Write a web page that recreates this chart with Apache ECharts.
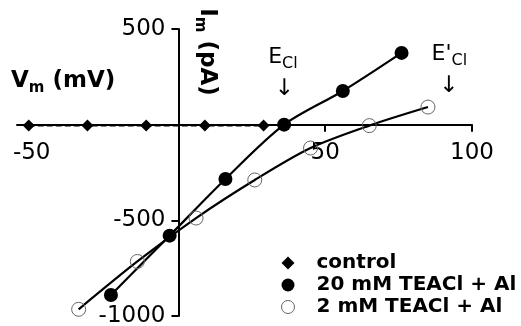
<!DOCTYPE html>
<html>
<head>
<meta charset="utf-8">
<script src="https://cdn.jsdelivr.net/npm/echarts@6/dist/echarts.min.js"></script>
<style>html,body{margin:0;padding:0;background:#fff;}#c{width:521px;height:326px;}</style>
</head>
<body>
<div id="c"></div>
<script>
// Data
const controlV = [-51, -31, -11, 9, 29];
const controlI = [-5, -5, -5, -5, -5];
const tea20V = [-23, -3, 16, 36, 56, 76];
const tea20I = [-890, -580, -284, 0, 176, 375];
const tea2V = [-34, -14, 6, 26, 45, 65, 85];
const tea2I = [-965, -715, -488, -289, -122, -5, 92];
const seriesNames = ['control', '20 mM TEACl + Al', '2 mM TEACl + Al'];
const xTickLabels = [-50, 50, 100];
const xTicks = [50, 100];
const yTickLabels = [500, -500, -1000];
const eCl = 36;
const eCl2 = 92;

const FONT = 'DejaVu Sans';
const zip = (a, b) => a.map((v, i) => [v, b[i]]);

// layout constants (pixels)
const G = { left: 17, right: 49, top: 29, bottom: 10 };
const X_MIN = -55, X_MAX = 100, Y_MIN = -1000, Y_MAX = 500;
const W = 521, H = 326;
const gw = W - G.left - G.right, gh = H - G.top - G.bottom;
const xOff = -(gh * (0 - Y_MIN) / (Y_MAX - Y_MIN));   // move x axis up to y = 0
const yOff = -(gw * (0 - X_MIN) / (X_MAX - X_MIN));   // move y axis right to x = 0

const chart = echarts.init(document.getElementById('c'));
const option = {
  animation: false,
  backgroundColor: '#fff',
  grid: Object.assign({ containLabel: false, outerBoundsMode: 'none' }, G),
  xAxis: {
    type: 'value', min: X_MIN, max: X_MAX, position: 'bottom', offset: xOff,
    axisLine: { onZero: false, lineStyle: { color: '#000', width: 2 } },
    axisTick: { customValues: xTicks, length: 7, lineStyle: { color: '#000', width: 2 } },
    axisLabel: { customValues: xTickLabels, margin: 17, color: '#000', fontSize: 23, fontFamily: FONT,
      formatter: v => String(v) },
    splitLine: { show: false }
  },
  yAxis: {
    type: 'value', min: Y_MIN, max: Y_MAX, interval: 500, position: 'left', offset: yOff,
    axisLine: { onZero: false, lineStyle: { color: '#000', width: 2 } },
    axisTick: { customValues: yTickLabels, length: 7, lineStyle: { color: '#000', width: 2 } },
    axisLabel: { customValues: yTickLabels, margin: 13, color: '#000', fontSize: 23, fontFamily: FONT,
      formatter: v => String(v) },
    splitLine: { show: false }
  },
  legend: {
    orient: 'vertical', left: 281, top: 253, padding: 0,
    itemWidth: 13, itemHeight: 13, itemGap: 2,
    textStyle: { fontFamily: FONT, fontWeight: 'bold', fontSize: 20, color: '#000', lineHeight: 13, padding: [0, 0, 0, 17] },
    data: [
      { name: seriesNames[0], icon: 'diamond', itemStyle: { color: '#000' } },
      { name: seriesNames[1], icon: 'circle', itemStyle: { color: '#000' } },
      { name: seriesNames[2], icon: 'circle', itemStyle: { color: '#fff', borderColor: '#666', borderWidth: 1 } }
    ]
  },
  series: [
    {
      name: seriesNames[0], type: 'line', data: zip(controlV, controlI),
      symbol: 'diamond', symbolSize: 12,
      itemStyle: { color: '#000' },
      lineStyle: { color: '#000', width: 2, type: [6, 3] }, z: 3
    },
    {
      name: seriesNames[1], type: 'line', data: zip(tea20V, tea20I), smooth: 0.3,
      symbol: 'circle', symbolSize: 14,
      itemStyle: { color: '#000' },
      lineStyle: { color: '#000', width: 2.2 }, z: 4
    },
    {
      name: seriesNames[2], type: 'line', data: zip(tea2V, tea2I), smooth: 0.3,
      symbol: 'circle', symbolSize: 14,
      itemStyle: { color: 'rgba(0,0,0,0)', borderColor: '#666', borderWidth: 1 },
      lineStyle: { color: '#000', width: 2.2 }, z: 4
    }
  ]
};
chart.setOption(option);

const p1 = chart.convertToPixel({ gridIndex: 0 }, [eCl, 0]);
const p2 = chart.convertToPixel({ gridIndex: 0 }, [eCl2, 0]);
const richBase = {
  b: { fontFamily: FONT, fontWeight: 'bold', fontSize: 23, lineHeight: 24, verticalAlign: 'top', fill: '#000' },
  bs: { fontFamily: FONT, fontWeight: 'bold', fontSize: 15, lineHeight: 16, padding: [11, 0, 0, 0], verticalAlign: 'top', fill: '#000' },
  r: { fontFamily: FONT, fontSize: 22, lineHeight: 23, verticalAlign: 'top', fill: '#000' },
  rs: { fontFamily: FONT, fontSize: 16, lineHeight: 17, padding: [10, 0, 0, 0], verticalAlign: 'top', fill: '#000' }
};
chart.setOption({
  graphic: [
    { type: 'text', left: 11, top: 70, style: { text: '{b|V}{bs|m}{b| (mV)}', rich: richBase } },
    { type: 'text', x: 206, y: 52, rotation: -Math.PI / 2,
      style: { text: '{b|I}{bs|m}{b| (pA)}', rich: richBase, align: 'center', verticalAlign: 'middle' } },
    { type: 'text', x: p1[0] - 16, y: 46, style: { text: '{r|E}{rs|Cl}', rich: richBase } },
    { type: 'text', x: p1[0], y: 89, style: { text: '↓', fontFamily: FONT, fontSize: 23, fill: '#000', align: 'center', verticalAlign: 'middle' } },
    { type: 'text', x: p2[0] - 17, y: 43, style: { text: "{r|E'}{rs|Cl}", rich: richBase } },
    { type: 'text', x: p2[0], y: 86, style: { text: '↓', fontFamily: FONT, fontSize: 23, fill: '#000', align: 'center', verticalAlign: 'middle' } }
  ]
});
</script>
</body>
</html>
